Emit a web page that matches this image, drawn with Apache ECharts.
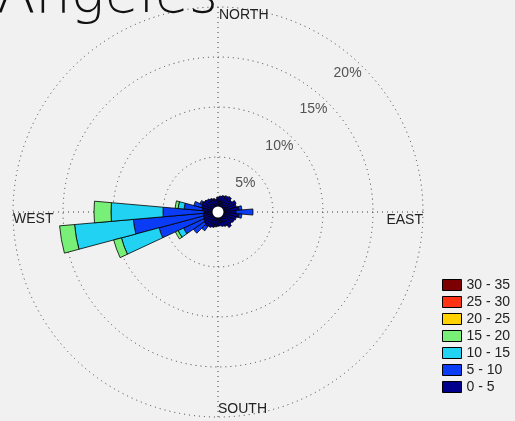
<!DOCTYPE html>
<html>
<head>
<meta charset="utf-8">
<script src="https://cdn.jsdelivr.net/npm/echarts@6/dist/echarts.min.js"></script>
<style>
  html, body { margin: 0; padding: 0; background: #f1f1f1; }
  #chart { width: 515px; height: 421px; }
</style>
</head>
<body>
<div id="chart"></div>
<script>
// Wind direction sectors, degrees clockwise from north
const directions = ['0','10','20','30','40','50','60','70','80','90','100','110',
  '120','130','140','150','160','170','180','190','200','210','220','230',
  '240','250','260','270','280','290','300','310','320','330','340','350'];

// Wind speed classes and their colours
const speedBins = ['0 - 5', '5 - 10', '10 - 15', '15 - 20', '20 - 25', '25 - 30', '30 - 35'];
const binColors = ['#00008c', '#0a3cf5', '#22d2f2', '#78f078', '#ffd200', '#ff3214', '#7d0000'];

// Frequency (%) per direction for each speed class
const freq0to5 = [1.0, 1.1, 1.2, 1.3, 1.4, 1.2, 1.5, 1.4, 1.6, 1.3, 1.6, 1.4,
  1.3, 1.2, 1.4, 1.1, 1.0, 0.9, 0.9, 1.0, 1.1, 1.2, 1.3, 1.2,
  1.1, 1.0, 1.0, 0.9, 1.1, 1.2, 1.3, 1.2, 1.1, 1.0, 0.9, 0.8];
const freq5to10 = [0, 0, 0, 0, 0, 0, 0, 0, 0.3, 1.7, 0.3, 0,
  0, 0, 0, 0, 0, 0, 0, 0, 0, 0, 0.5, 1.3,
  2.2, 4.6, 7.0, 4.1, 1.8, 0.8, 0.2, 0, 0, 0, 0, 0];
const freq10to15 = [0, 0, 0, 0, 0, 0, 0, 0, 0, 0, 0, 0,
  0, 0, 0, 0, 0, 0, 0, 0, 0, 0, 0, 0,
  0.6, 3.9, 5.9, 5.2, 0.6, 0, 0, 0, 0, 0, 0, 0];
const freq15to20 = [0, 0, 0, 0, 0, 0, 0, 0, 0, 0, 0, 0,
  0, 0, 0, 0, 0, 0, 0, 0, 0, 0, 0, 0,
  0.3, 0.8, 1.5, 1.7, 0.3, 0, 0, 0, 0, 0, 0, 0];
const freq20to25 = [0, 0, 0, 0, 0, 0, 0, 0, 0, 0, 0, 0,
  0, 0, 0, 0, 0, 0, 0, 0, 0, 0, 0, 0,
  0, 0, 0, 0, 0, 0, 0, 0, 0, 0, 0, 0];
const freq25to30 = [0, 0, 0, 0, 0, 0, 0, 0, 0, 0, 0, 0,
  0, 0, 0, 0, 0, 0, 0, 0, 0, 0, 0, 0,
  0, 0, 0, 0, 0, 0, 0, 0, 0, 0, 0, 0];
const freq30to35 = [0, 0, 0, 0, 0, 0, 0, 0, 0, 0, 0, 0,
  0, 0, 0, 0, 0, 0, 0, 0, 0, 0, 0, 0,
  0, 0, 0, 0, 0, 0, 0, 0, 0, 0, 0, 0];

// Frequency rings and their labels
const ringTicks = [5, 10, 15, 20];
const ringLabels = ['5%', '10%', '15%', '20%'];
const compassLabels = ['NORTH', 'EAST', 'SOUTH', 'WEST'];
const titleText = 'Angeles';

const binData = [freq0to5, freq5to10, freq10to15, freq15to20, freq20to25, freq25to30, freq30to35];

const CX = 218, CY = 212, R_IN = 5, R_OUT = 205;
const FONT = '"Liberation Sans", Arial, sans-serif';
const dotted = { color: '#3c3c3c', width: 1, type: [1, 4] };

const chart = echarts.init(document.getElementById('chart'), null, { renderer: 'canvas' });

const barSeries = speedBins.map((name, i) => ({
  type: 'bar',
  name: name,
  coordinateSystem: 'polar',
  polarIndex: 0,
  stack: 'wind',
  barCategoryGap: '0%',
  data: binData[i].map(v => (v === 0 ? '-' : v)),
  itemStyle: { color: binColors[i], borderColor: '#000', borderWidth: 0.8 },
  emphasis: { disabled: true },
  z: 3
}));

// Ring percentage labels, set just inside each ring along a 43 degree bearing
const ringLabelSeries = {
  type: 'scatter',
  coordinateSystem: 'polar',
  polarIndex: 1,
  symbolSize: 0,
  silent: true,
  data: ringTicks.map((t, i) => ({ value: [t - 1.5, 43], name: ringLabels[i] })),
  label: {
    show: true, position: 'inside', formatter: p => p.name,
    fontFamily: FONT, fontSize: 14, color: '#2a2a2a'
  },
  z: 4
};

const option = {
  backgroundColor: '#f1f1f1',
  animation: false,
  polar: [
    { center: [CX, CY], radius: [R_IN, R_OUT] },
    { center: [CX, CY], radius: [R_IN, R_OUT] }
  ],
  angleAxis: [
    {
      polarIndex: 0, type: 'category', data: directions,
      startAngle: 95, clockwise: true,
      axisLine: { show: false }, axisTick: { show: false }, axisLabel: { show: false },
      splitLine: { show: false }
    },
    {
      polarIndex: 1, type: 'value', min: 0, max: 360, interval: 90,
      startAngle: 90, clockwise: true,
      axisLine: { show: false }, axisTick: { show: false }, axisLabel: { show: false },
      splitLine: { show: true, lineStyle: dotted }
    }
  ],
  radiusAxis: [
    {
      polarIndex: 0, type: 'value', min: 0, max: 20, interval: 5,
      axisLine: { show: false }, axisTick: { show: false }, axisLabel: { show: false },
      splitLine: { show: true, lineStyle: dotted }
    },
    {
      polarIndex: 1, type: 'value', min: 0, max: 20, interval: 5,
      axisLine: { show: false }, axisTick: { show: false }, axisLabel: { show: false },
      splitLine: { show: false }
    }
  ],
  legend: {
    data: speedBins.slice().reverse(),
    orient: 'vertical',
    left: 437, top: 273,
    itemWidth: 19, itemHeight: 11, itemGap: 3,
    icon: 'rect',
    itemStyle: { borderColor: '#000', borderWidth: 1 },
    textStyle: { fontFamily: FONT, fontSize: 14, color: '#222' },
    selectedMode: false
  },
  graphic: [
    {
      type: 'circle', shape: { cx: CX, cy: CY, r: R_IN + 0.5 },
      style: { fill: '#ffffff' }, z: 10, silent: true
    },
    {
      type: 'text', x: 218, y: 25, z: 1,
      style: { text: titleText, fontFamily: '"DejaVu Sans", sans-serif', fontSize: 56, fontWeight: 200,
        fill: '#111', textAlign: 'right', textVerticalAlign: 'bottom' }
    },
    { type: 'text', x: CX + 1, y: CY - R_OUT + 1, z: 10,
      style: { text: compassLabels[0], font: '14px ' + FONT, fill: '#222', textAlign: 'left', textVerticalAlign: 'top' } },
    { type: 'text', x: CX + R_OUT, y: CY + 1, z: 10,
      style: { text: compassLabels[1], font: '14px ' + FONT, fill: '#222', textAlign: 'right', textVerticalAlign: 'top' } },
    { type: 'text', x: CX, y: CY + R_OUT - 1, z: 10,
      style: { text: compassLabels[2], font: '14px ' + FONT, fill: '#222', textAlign: 'left', textVerticalAlign: 'bottom' } },
    { type: 'text', x: CX - R_OUT, y: CY, z: 10,
      style: { text: compassLabels[3], font: '14px ' + FONT, fill: '#222', textAlign: 'left', textVerticalAlign: 'top' } }
  ],
  series: barSeries.concat([ringLabelSeries])
};

chart.setOption(option);
</script>
</body>
</html>
